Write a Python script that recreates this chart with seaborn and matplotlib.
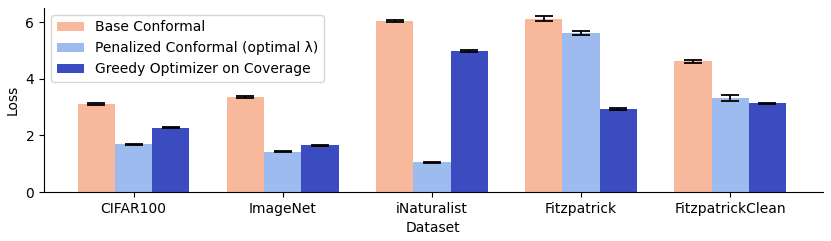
import matplotlib
matplotlib.use("Agg")
import matplotlib.pyplot as plt
import seaborn as sns
import pandas as pd
import numpy as np

datasets = ["CIFAR100", "ImageNet", "iNaturalist", "Fitzpatrick", "FitzpatrickClean"]
methods = ["Base Conformal", "Penalized Conformal (optimal λ)", "Greedy Optimizer on Coverage"]
base_vals = [3.12, 3.35, 6.05, 6.12, 4.61]
pen_vals = [1.69, 1.42, 1.05, 5.61, 3.32]
greedy_vals = [2.27, 1.65, 4.97, 2.93, 3.13]
base_err = [0.03, 0.04, 0.03, 0.08, 0.04]
pen_err = [0.02, 0.02, 0.01, 0.07, 0.09]
greedy_err = [0.02, 0.02, 0.04, 0.03, 0.03]
colors = ["#f7b89c", "#9dbbee", "#3b4cc0"]

rows = []
for m, vals, errs in zip(methods, [base_vals, pen_vals, greedy_vals], [base_err, pen_err, greedy_err]):
    for d, v, e in zip(datasets, vals, errs):
        rows.append({"Dataset": d, "Method": m, "Loss": v, "err": e})
df = pd.DataFrame(rows)

fig = plt.figure(figsize=(8.31, 2.41), dpi=100)
ax = fig.add_axes([0.053, 0.203, 0.937, 0.764])
sns.barplot(data=df, x="Dataset", y="Loss", hue="Method", order=datasets, hue_order=methods,
            palette=colors, errorbar=None, width=0.75, ax=ax, saturation=1, linewidth=0)

for container, m in zip(ax.containers, methods):
    sub = df[df["Method"] == m].set_index("Dataset").loc[datasets]
    xs = [p.get_x() + p.get_width() / 2 for p in container]
    ys = [p.get_height() for p in container]
    ax.errorbar(xs, ys, yerr=sub["err"].values, fmt="none", ecolor="black", capsize=6.5, elinewidth=1.3, capthick=1.3)

ax.set_xlim(-0.6, 4.62)
ax.set_ylim(0, 6.5)
ax.set_yticks([0, 2, 4, 6])
ax.set_xlabel("Dataset", fontsize=10)
ax.set_ylabel("Loss", fontsize=10)
ax.tick_params(labelsize=10)
sns.despine(ax=ax)
ax.legend(loc="upper left", fontsize=10, frameon=True)
fig.savefig("out.png", dpi=100)
